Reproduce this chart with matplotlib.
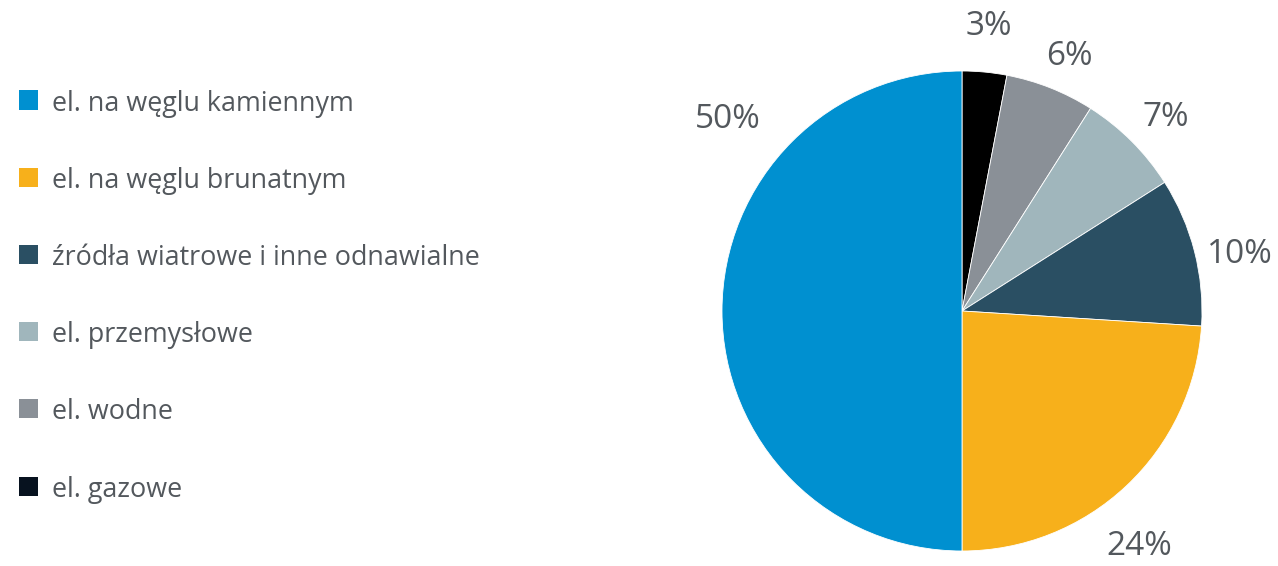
import matplotlib
matplotlib.use("Agg")
import matplotlib.pyplot as plt
import numpy as np
from matplotlib.patches import Rectangle

# Data (legend order)
categories = ["el. na węglu kamiennym", "el. na węglu brunatnym",
              "źródła wiatrowe i inne odnawialne", "el. przemysłowe",
              "el. wodne", "el. gazowe"]
values = [50, 24, 10, 7, 6, 3]
colors = ["#0090D0", "#F7B01B", "#2A4F63", "#A0B6BC", "#8A9097", "#000000"]
legend_colors = ["#0090D0", "#F7B01B", "#2A4F63", "#A0B6BC", "#8A9097", "#07121F"]
labels = ["50%", "24%", "10%", "7%", "6%", "3%"]

TEXT = "#53585D"
FONT = ["Open Sans", "DejaVu Sans"]

W, H = 1278, 566
fig = plt.figure(figsize=(W / 100, H / 100), dpi=100)

# pie axes
cx, cy, R = 962, 311, 240
ax = fig.add_axes([(cx - R) / W, (H - cy - R) / H, 2 * R / W, 2 * R / H])

# pie drawn clockwise from 12 o'clock, starting with the smallest slice
pie_vals = values[::-1]
pie_cols = colors[::-1]
wedges, _ = ax.pie(pie_vals, colors=pie_cols, startangle=90, counterclock=False,
                   radius=1, wedgeprops=dict(edgecolor="white", linewidth=0.6))
ax.set_xlim(-1, 1)
ax.set_ylim(-1, 1)
ax.set_aspect("equal")
ax.axis("off")

# label placement (radius factor, angle offset in degrees) in pie order
pie_labels = labels[::-1]
lab_r = [1.19, 1.15, 1.17, 1.18, 1.23, 1.26]
lab_off = [0, -1.2, -1.5, -2.8, -6.2, -39.2]
start = 90.0
for v, lab, rr, off in zip(pie_vals, pie_labels, lab_r, lab_off):
    mid = start - v * 3.6 / 2
    start -= v * 3.6
    a = np.deg2rad(mid + off)
    ax.text(rr * np.cos(a), rr * np.sin(a), lab, ha="center", va="center",
            fontsize=24, color=TEXT, family=FONT, clip_on=False)

# legend drawn manually
y0, dy = 100, 77.2
for i, (cat, col) in enumerate(zip(categories, legend_colors)):
    y = y0 + i * dy
    fig.patches.append(Rectangle((19 / W, (H - y - 9.5) / H), 19 / W, 19 / H,
                                 transform=fig.transFigure, facecolor=col,
                                 edgecolor="none"))
    fig.text(52 / W, (H - y) / H, cat, ha="left", va="center_baseline",
             fontsize=19.4, color=TEXT, family=FONT)

fig.savefig("out.png", dpi=100, facecolor="white")
